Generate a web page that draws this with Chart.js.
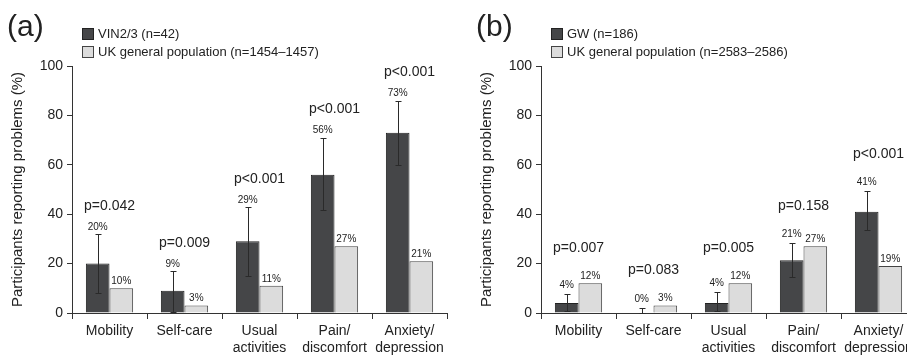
<!DOCTYPE html>
<html>
<head>
<meta charset="utf-8">
<script src="https://cdn.jsdelivr.net/npm/chart.js@4.4.0/dist/chart.umd.min.js"></script>
<style>
    html, body { margin: 0; padding: 0; background: #fff; overflow: hidden; width: 907px; height: 355px; }
    canvas { position: absolute; top: 0; }
</style>
</head>
<body>
<canvas id="chartA" width="469" height="355" style="left:0px"></canvas>
<canvas id="chartB" width="469" height="355" style="left:469px"></canvas>
<script>
// categories shared by both panels
let categories = [['Mobility'], ['Self-care'], ['Usual', 'activities'], ['Pain/', 'discomfort'], ['Anxiety/', 'depression']];

// panel (a)
let vinValues = [20, 9, 29, 56, 73];
let vinErrLow = [8, 0.3, 15, 41.5, 60];
let vinErrHigh = [32, 17, 43, 71, 86];
let ukValuesA = [10, 3, 11, 27, 21];
let pValuesA = ['p=0.042', 'p=0.009', 'p<0.001', 'p<0.001', 'p<0.001'];

// panel (b)
let gwValues = [4, 0, 4, 21.4, 41];
let gwErrLow = [1, 0, 1, 14.5, 33.5];
let gwErrHigh = [7.5, 2, 8.3, 28.3, 49.3];
let ukValuesB = [12, 3, 12, 27, 19];
let pValuesB = ['p=0.007', 'p=0.083', 'p=0.005', 'p=0.158', 'p<0.001'];

let yTicks = [0, 20, 40, 60, 80, 100];

const FONT = "'Liberation Sans', Arial, Helvetica, sans-serif";
Chart.defaults.font.family = FONT;
Chart.defaults.color = '#222';

// error bars, percent labels, p values, legend and panel letter
const annotate = {
    id: 'annotate',
    afterDatasetsDraw(chart, args, opts) {
        const ctx = chart.ctx;
        const y = chart.scales.y;
        const dark = chart.getDatasetMeta(0).data;
        const light = chart.getDatasetMeta(1).data;
        const darkVals = chart.data.datasets[0].data;
        const lightVals = chart.data.datasets[1].data;
        ctx.save();

        // error bars
        ctx.strokeStyle = '#2a2a2a';
        ctx.lineWidth = 1;
        dark.forEach((bar, i) => {
            let x = Math.round(bar.x) + 0.5;
            let top = Math.round(y.getPixelForValue(opts.errHigh[i])) + 0.5;
            let bot = Math.round(y.getPixelForValue(opts.errLow[i])) + 0.5;
            ctx.beginPath();
            ctx.moveTo(x, top); ctx.lineTo(x, bot);
            ctx.moveTo(x - 3, top); ctx.lineTo(x + 3, top);
            ctx.moveTo(x - 3, bot); ctx.lineTo(x + 3, bot);
            ctx.stroke();
        });

        // percent and p labels
        ctx.fillStyle = '#222';
        ctx.textAlign = 'center';
        ctx.textBaseline = 'middle';
        dark.forEach((bar, i) => {
            let dy = y.getPixelForValue(opts.errHigh[i]) - opts.pctGap;
            let ly = light[i].y - 7;
            ctx.font = '10px ' + FONT;
            ctx.fillText(Math.round(darkVals[i]) + '%', bar.x, dy);
            ctx.fillText(Math.round(lightVals[i]) + '%', light[i].x, ly);
            ctx.font = '14px ' + FONT;
            let cx = (bar.x + light[i].x) / 2;
            ctx.fillText(opts.pLabels[i], cx, Math.min(dy, ly) - opts.pGap);
        });

        // legend
        const left = chart.chartArea.left + 10;
        ctx.font = '13px ' + FONT;
        ctx.textAlign = 'left';
        chart.data.datasets.forEach((ds, i) => {
            let cy = 34 + i * 18;
            ctx.fillStyle = ds.backgroundColor;
            ctx.fillRect(left + 0.5, cy - 5.5, 11, 11);
            ctx.strokeStyle = ds.borderColor;
            ctx.strokeRect(left + 0.5, cy - 5.5, 11, 11);
            ctx.fillStyle = '#222';
            ctx.fillText(ds.label, left + 16, cy);
        });

        // panel letter
        ctx.font = '30px ' + FONT;
        ctx.fillText(opts.letter, 7, 28);
        ctx.restore();
    }
};

function makePanel(id, letter, darkLabel, darkVals, lightLabel, lightVals, errLow, errHigh, pLabels, pctGap, pGap) {
    let ctx = document.getElementById(id);
    return new Chart(ctx, {
        type: 'bar',
        data: {
            labels: categories,
            datasets: [{
                label: darkLabel,
                data: darkVals,
                backgroundColor: '#454648',
                borderColor: '#222',
                borderWidth: 1
            }, {
                label: lightLabel,
                data: lightVals,
                backgroundColor: '#dcdcdc',
                borderColor: '#444',
                borderWidth: 1
            }]
        },
        options: {
            responsive: false,
            animation: false,
            categoryPercentage: 0.63,
            barPercentage: 1,
            layout: { padding: { top: 66, right: 22, left: 0, bottom: 0 } },
            plugins: {
                legend: { display: false },
                tooltip: { enabled: false },
                annotate: { letter: letter, errLow: errLow, errHigh: errHigh, pLabels: pLabels, pctGap: pctGap, pGap: pGap }
            },
            scales: {
                x: {
                    ticks: { color: '#222', font: { size: 14 }, padding: 4, maxRotation: 0, autoSkip: false },
                    grid: { drawOnChartArea: false, tickLength: 6, color: '#333', offset: true },
                    border: { color: '#333' },
                    afterFit: function (scale) { scale.height = 42; }
                },
                y: {
                    min: 0,
                    max: 100,
                    afterBuildTicks: function (scale) { scale.ticks = yTicks.map(v => ({ value: v })); },
                    ticks: { color: '#222', font: { size: 14 }, padding: 4 },
                    grid: { drawOnChartArea: false, tickLength: 5, color: '#333' },
                    border: { color: '#333' },
                    title: {
                        display: true,
                        text: 'Participants reporting problems (%)',
                        font: { size: 15 },
                        color: '#222',
                        padding: { top: 9, bottom: 0 }
                    },
                    afterFit: function (scale) { scale.width = 72; }
                }
            }
        },
        plugins: [annotate]
    });
}

makePanel('chartA', '(a)', 'VIN2/3 (n=42)', vinValues, 'UK general population (n=1454\u20131457)', ukValuesA,
    vinErrLow, vinErrHigh, pValuesA, 7, 21);
makePanel('chartB', '(b)', 'GW (n=186)', gwValues, 'UK general population (n=2583\u20132586)', ukValuesB,
    gwErrLow, gwErrHigh, pValuesB, 9, 28);
</script>
</body>
</html>
